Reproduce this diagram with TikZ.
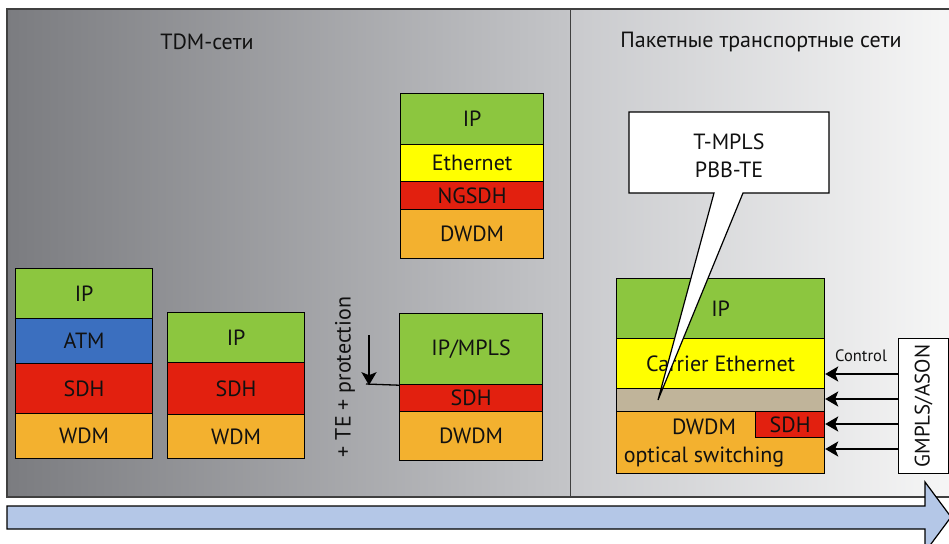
\documentclass[tikz,border=0pt]{standalone}
\usepackage{fontspec}
\setmainfont{PT Sans}
\usetikzlibrary{arrows.meta}
\definecolor{cgreen}{HTML}{8CC63F}
\definecolor{cblue}{HTML}{3B6FBF}
\definecolor{cred}{HTML}{E2200F}
\definecolor{corange}{HTML}{F3B12F}
\definecolor{cyellow}{HTML}{FFFF00}
\definecolor{ctan}{HTML}{C0B49A}
\definecolor{carrow}{HTML}{B4C7E7}
\definecolor{bgA}{HTML}{7B7C80}
\definecolor{bgB}{HTML}{C4C5C8}
\definecolor{bgC}{HTML}{C9CACD}
\definecolor{bgD}{HTML}{F6F6F6}
\definecolor{ink}{HTML}{111111}
\newcommand\lblfont{\fontsize{22}{28}\selectfont}
\newcommand\smallfont{\fontsize{16.5}{19}\selectfont}
\begin{document}
\begin{tikzpicture}[x=1pt,y=-1pt,
  layer/.style={draw=black, line width=1.2pt, inner sep=0pt, anchor=north west,
    font=\lblfont, text=ink},
  lbl/.style={font=\lblfont, text=ink, inner sep=0pt},
  title/.style={font=\fontsize{22}{26}\selectfont, text=ink, inner sep=0pt},
  ctrl/.style={line width=2pt, -{Stealth[length=13pt,width=15pt,inset=3pt]}},
]
\useasboundingbox (0,0) rectangle (949,543);
\clip (0,0) rectangle (949,543);
\fill[white] (0,0) rectangle (949,543);
% background panels
\shade[left color=bgA, right color=bgB] (7,9) rectangle (570,497);
\shade[left color=bgC, right color=bgD] (570,9) rectangle (952,497);
\draw[line width=1.3pt, draw=black!75] (952,9) -- (7,9) -- (7,497) -- (952,497);
\draw[line width=1pt, draw=black!75] (570,9) -- (570,497);
\node[title] (t1) at (207,42) {TDM-сети};
\node[title] (t2) at (761,42) {Пакетные транспортные сети};

% stack 1
\node[layer, fill=cgreen, minimum width=137pt, minimum height=50pt] (a1) at (15,268) {IP};
\node[layer, fill=cblue, minimum width=137pt, minimum height=45pt] (a2) at (15,318) {ATM};
\node[layer, fill=cred, minimum width=137pt, minimum height=50pt] (a3) at (15,363) {SDH};
\node[layer, fill=corange, minimum width=137pt, minimum height=45pt] (a4) at (15,413) {WDM};
% stack 2
\node[layer, fill=cgreen, minimum width=137pt, minimum height=50pt] (b1) at (167,312) {IP};
\node[layer, fill=cred, minimum width=137pt, minimum height=52pt] (b2) at (167,362) {SDH};
\node[layer, fill=corange, minimum width=137pt, minimum height=44pt] (b3) at (167,414) {WDM};
% stack 3
\node[layer, fill=cgreen, minimum width=143pt, minimum height=51pt] (c1) at (400,93) {IP};
\node[layer, fill=cyellow, minimum width=143pt, minimum height=37pt] (c2) at (400,144) {Ethernet};
\node[layer, fill=cred, minimum width=143pt, minimum height=28pt] (c3) at (400,181) {NGSDH};
\node[layer, fill=corange, minimum width=143pt, minimum height=49pt] (c4) at (400,209) {DWDM};
% stack 4
\node[layer, fill=cgreen, minimum width=143pt, minimum height=71pt] (d1) at (399,313) {IP/MPLS};
\node[layer, fill=cred, minimum width=143pt, minimum height=27pt] (d2) at (399,384) {SDH};
\node[layer, fill=corange, minimum width=143pt, minimum height=49pt] (d3) at (399,411) {DWDM};
% TE + protection
\coordinate (teTop) at (369,335);
\coordinate (teLeft) at (366,384);
\draw[line width=1.3pt] (teLeft) -- (d1.south west);
\draw[ctrl] (teTop) -- (teTop |- d1.south);
\node[lbl, rotate=90] (te) at (345,377) {+ TE + protection};

% stack 5
\node[layer, fill=cgreen, minimum width=208pt, minimum height=60pt] (e1) at (616,278) {IP};
\node[layer, fill=cyellow, minimum width=208pt, minimum height=50pt] (e2) at (616,338) {Carrier Ethernet};
\node[layer, fill=ctan, minimum width=208pt, minimum height=23pt] (e3) at (616,388) {};
\node[layer, fill=corange, minimum width=208pt, minimum height=62pt] (e4) at (616,411) {};
\node[layer, fill=cred, minimum width=69pt, minimum height=26pt] (e5) at (755,411) {SDH};
\node[lbl, align=center] (e4t) at (704,443) {DWDM\\optical switching};

% callout
\draw[fill=white, line width=1.2pt, line join=miter]
  (629,112) -- (829,112) -- (829,193) -- (743,193) -- (658,400) -- (714,193) -- (629,193) -- cycle;
\node[lbl, align=center] (call) at (729,156) {T-MPLS\\PBB-TE};

% GMPLS/ASON
\node[draw=black, line width=1.2pt, fill=white, inner sep=0pt, anchor=north west,
  minimum width=50pt, minimum height=135pt] (gm) at (898,338) {};
\node[lbl, font=\fontsize{21}{24}\selectfont, rotate=90] (gmt) at (gm.center) {GMPLS/ASON};
\coordinate (y1) at (0,374);
\coordinate (y2) at (0,399);
\coordinate (y3) at (0,424);
\coordinate (y4) at (0,449);
\draw[ctrl] (gm.west |- y1) -- (e2.east |- y1);
\draw[ctrl] (gm.west |- y2) -- (e3.east |- y2);
\draw[ctrl] (gm.west |- y3) -- (e5.east |- y3);
\draw[ctrl] (gm.west |- y4) -- (e4.east |- y4);
\node[font=\smallfont, text=ink, inner sep=0pt] (ctl) at (861,356) {Control};

% big arrow
\draw[fill=carrow, line width=1.2pt, line join=miter]
  (7,506) -- (925,506) -- (925,482) -- (951,517) -- (925,552) -- (925,529) -- (7,529) -- cycle;
\end{tikzpicture}
\end{document}
